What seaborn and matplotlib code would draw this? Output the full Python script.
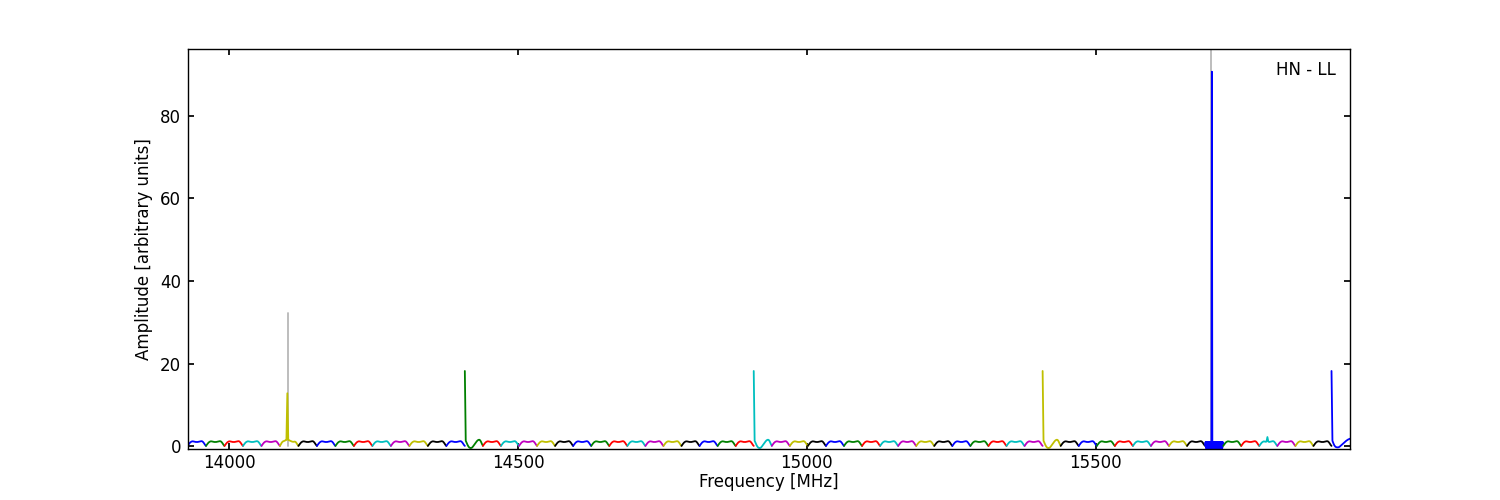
import numpy as np
import pandas as pd
import matplotlib
matplotlib.use("Agg")
import matplotlib.pyplot as plt
import seaborn as sns

# sub-band layout (MHz)
band_starts = [13928, 14408, 14908, 15408, 15908]
band_ends = [14408, 14908, 15408, 15908, 15940]
band_nseg = [15, 16, 16, 16, 1]

# classic matplotlib colour cycle: b g r c m y k
seg_colors = ["#0000ff", "#008000", "#ff0000", "#00bfbf",
              "#bf00bf", "#bfbf00", "#000000"]

# samples across one channel, normal bandpass shape
scallop = [0.05, 0.35, 0.65, 0.9, 1.05, 1.15, 1.15, 1.1, 1.05, 1.0, 1.0,
           1.0, 1.05, 1.1, 1.15, 1.2, 1.15, 0.95, 0.65, 0.3, 0.05]
# first channel of a band: edge spike then a dip
edge_seg = [18.2, 1.3, 0.8, 0.3, -0.1, -0.35, -0.45, -0.45, -0.35, -0.1, 0.2,
            0.5, 0.8, 1.1, 1.35, 1.5, 1.55, 1.4, 1.0, 0.5, 0.1]
# last (cut) channel on the right
last_seg = [18.2, 1.3, 0.7, 0.2, -0.1, -0.25, -0.3, -0.3, -0.25, -0.1, 0.1,
            0.3, 0.5, 0.7, 0.9, 1.1, 1.3, 1.45, 1.6, 1.7, 1.8]
# channel with the line near 14100 MHz
line_14100 = [0.05, 0.45, 0.85, 1.1, 1.2, 1.3, 1.4, 1.5, 12.8, 1.5, 1.4,
              1.3, 1.2, 1.1, 1.05, 1.05, 1.1, 1.0, 0.7, 0.35, 0.05]
# noisy channel with the strong line near 15700 MHz
line_15700 = [0.2, 1.0, -0.5, 1.0, -0.5, 1.0, -0.5, 1.0, -0.5, 1.0, -0.5,
              1.0, -0.5, 1.0, -0.5, 90.7, -0.5, 1.0, -0.5, 1.0, -0.5,
              1.0, -0.5, 1.0, -0.5, 1.0, -0.5, 1.0, -0.5, 1.0, -0.5,
              1.0, -0.5, 1.0, -0.5, 1.0, -0.5, 1.0, -0.5, 1.0, 0.2]
# small bump near 15797 MHz
line_15797 = [0.05, 0.35, 0.65, 0.9, 1.05, 1.15, 1.1, 1.05, 1.1, 2.2, 1.1,
              1.0, 1.05, 1.1, 1.15, 1.2, 1.15, 0.95, 0.65, 0.3, 0.05]

special = {(0, 5): line_14100, (1, 0): edge_seg, (2, 0): edge_seg,
           (3, 0): edge_seg, (3, 9): line_15700, (3, 12): line_15797,
           (4, 0): last_seg}

# other polarisation (grey, only visible at the lines)
gray_freq = [14101.6, 15700.1]
gray_peak = [32.3, 130.0]

rows = []
seg_id = 0
for b in range(len(band_starts)):
    w = (band_ends[b] - band_starts[b]) / band_nseg[b]
    for j in range(band_nseg[b]):
        prof = special.get((b, j), scallop)
        frac = np.linspace(0, 1, len(prof))
        x0 = band_starts[b] + j * w
        for f, a in zip(frac, prof):
            rows.append((seg_id, x0 + f * w, a))
        seg_id += 1
df = pd.DataFrame(rows, columns=["seg", "freq", "amp"])
pal = {s: seg_colors[s % len(seg_colors)] for s in range(seg_id)}

gray_df = pd.DataFrame({
    "spike": [0, 0, 1, 1],
    "freq": [gray_freq[0], gray_freq[0], gray_freq[1], gray_freq[1]],
    "amp": [0, gray_peak[0], 0, gray_peak[1]],
})

sns.set_theme(style="ticks")
plt.rcParams.update({
    "font.family": ["DejaVu Sans"],
    "font.size": 12,
    "text.color": "black", "axes.labelcolor": "black",
    "xtick.color": "black", "ytick.color": "black",
    "xtick.direction": "in", "ytick.direction": "in",
    "xtick.top": True, "ytick.right": True,
    "xtick.major.size": 4, "ytick.major.size": 4,
    "xtick.major.pad": 3.5, "ytick.major.pad": 4.5,
    "xtick.labelsize": 12, "ytick.labelsize": 12,
    "axes.linewidth": 1.0, "axes.edgecolor": "black",
})

fig, ax = plt.subplots(figsize=(15, 5), dpi=100)
fig.subplots_adjust(left=0.125, right=0.9, bottom=0.102, top=0.902)

sns.lineplot(data=gray_df, x="freq", y="amp", units="spike", estimator=None,
             color="0.72", linewidth=1.3, ax=ax, zorder=1)
sns.lineplot(data=df, x="freq", y="amp", hue="seg", palette=pal,
             estimator=None, sort=False, legend=False, linewidth=1.3,
             ax=ax, zorder=2)

ax.set_xlim(13928, 15940)
ax.set_ylim(-0.7, 96.2)
ax.set_xticks([14000, 14500, 15000, 15500])
ax.set_yticks([0, 20, 40, 60, 80])
ax.set_xlabel("Frequency [MHz]", fontsize=12, labelpad=1)
ax.set_ylabel("Amplitude [arbitrary units]", fontsize=12, labelpad=5)
ax.text(0.988, 0.947, "HN - LL", transform=ax.transAxes,
        ha="right", va="center", fontsize=12)

fig.savefig("out.png", dpi=100, facecolor="white")
